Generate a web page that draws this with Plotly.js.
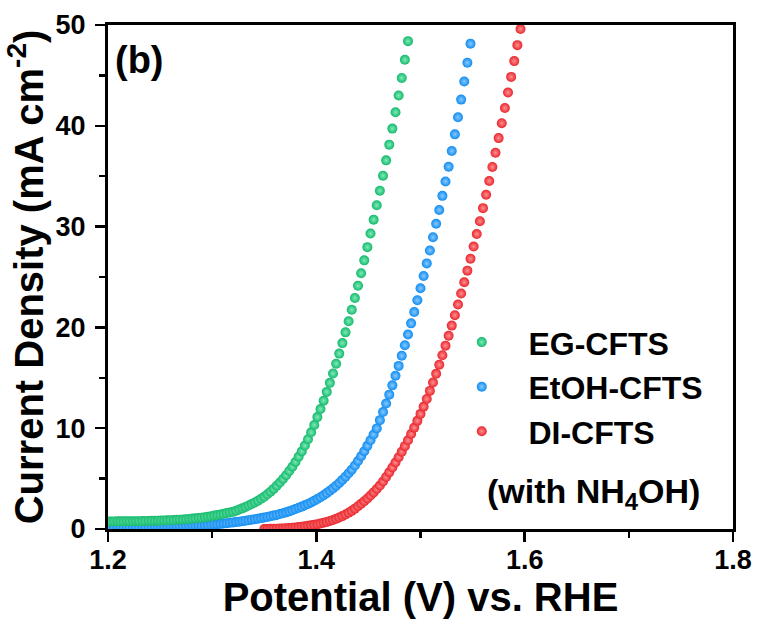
<!DOCTYPE html>
<html>
<head>
<meta charset="utf-8">
<script src="https://cdn.plot.ly/plotly-3.0.1.min.js"></script>
<style>html,body{margin:0;padding:0;background:#fff;}#chart{width:759px;height:621px;}</style>
</head>
<body>
<div id="chart"></div>
<script>
// Potential grid (V vs. RHE): first potential and scan step of each series
const seriesNames = ["EG-CFTS", "EtOH-CFTS", "DI-CFTS"];
const startPotential = [1.200, 1.200, 1.350];
const potentialStep = 0.003;

// Current density (mA cm^-2)
const egCFTS = [
  0.75,0.75,0.75,0.76,0.76,0.76,0.77,0.77,0.77,0.78,
  0.78,0.79,0.79,0.80,0.81,0.82,0.83,0.84,0.85,0.86,
  0.88,0.89,0.91,0.93,0.95,0.97,1.00,1.03,1.06,1.09,
  1.12,1.17,1.22,1.27,1.33,1.39,1.45,1.51,1.58,1.64,
  1.70,1.81,1.93,2.05,2.19,2.33,2.48,2.64,2.81,3.00,
  3.20,3.44,3.70,3.98,4.29,4.61,4.96,5.34,5.75,6.18,
  6.65,7.16,7.70,8.28,8.91,9.59,10.32,11.10,11.90,12.73,
  13.60,14.50,15.43,16.40,17.40,18.44,19.51,20.61,21.75,22.92,
  24.13,25.37,26.65,27.96,29.31,30.69,32.11,33.56,35.05,36.57,
  38.13,39.72,41.35,43.01,44.75,46.55,48.40
];
const etohCFTS = [
  0.15,0.15,0.15,0.16,0.16,0.16,0.17,0.17,0.18,0.18,
  0.18,0.19,0.19,0.20,0.20,0.21,0.22,0.22,0.23,0.24,
  0.25,0.26,0.27,0.28,0.29,0.30,0.31,0.32,0.33,0.34,
  0.35,0.37,0.39,0.42,0.45,0.48,0.51,0.55,0.58,0.62,
  0.65,0.69,0.73,0.78,0.83,0.87,0.92,0.97,1.02,1.08,
  1.14,1.20,1.26,1.33,1.40,1.48,1.56,1.65,1.75,1.86,
  1.98,2.10,2.22,2.35,2.49,2.64,2.80,2.97,3.15,3.35,
  3.56,3.79,4.03,4.29,4.57,4.87,5.19,5.53,5.89,6.30,
  6.75,7.22,7.72,8.25,8.80,9.38,9.98,10.80,11.60,12.45,
  13.33,14.25,15.20,16.18,17.19,18.23,19.30,20.40,21.53,22.69,
  23.88,25.10,26.35,27.63,28.94,30.28,31.65,33.05,34.48,35.94,
  37.50,39.15,40.85,42.60,44.40,46.25,48.15
];
const diCFTS = [
  0.00,0.01,0.02,0.02,0.03,0.05,0.06,0.08,0.10,0.13,
  0.16,0.19,0.23,0.27,0.32,0.37,0.42,0.47,0.54,0.62,
  0.70,0.80,0.90,1.01,1.14,1.28,1.44,1.61,1.80,2.02,
  2.25,2.50,2.76,3.03,3.32,3.63,3.96,4.31,4.72,5.16,
  5.62,6.10,6.60,7.12,7.66,8.22,8.80,9.42,10.06,10.73,
  11.42,12.14,12.90,13.70,14.53,15.40,16.30,17.23,18.19,19.17,
  20.18,21.21,22.27,23.36,24.48,25.63,26.81,28.02,29.26,30.53,
  31.83,33.16,34.52,35.91,37.33,38.78,40.26,41.77,43.30,44.85,
  46.42,48.00,49.60
];

const seriesValues = [egCFTS, etohCFTS, diCFTS];
const seriesColors = ["#14B96C", "#108CF0", "#E8262C"];
const seriesHighlights = ["#7FEBB8", "#86C9FF", "#FF8F92"];
const drawOrder = [2, 1, 0]; // DI drawn first, EG on top

const xTicks = [1.2, 1.4, 1.6, 1.8];
const yTicks = [0, 10, 20, 30, 40, 50];

const FONT = "Arial, 'Liberation Sans', sans-serif";

const traces = drawOrder.map(function (k) {
  return {
    type: "scatter",
    mode: "markers",
    name: "\u00a0\u00a0\u00a0" + seriesNames[k],
    x0: startPotential[k],
    dx: potentialStep,
    y: seriesValues[k],
    legendgroup: "g" + k,
    legendrank: k + 1,
    marker: {
      size: 10,
      color: seriesColors[k],
      gradient: { type: "radial", color: seriesHighlights[k] },
      line: { width: 0 }
    },
    hoverinfo: "x+y+name"
  };
});

const axisCommon = {
  showline: true,
  linecolor: "#000",
  linewidth: 3,
  mirror: true,
  ticks: "outside",
  ticklen: 10,
  tickwidth: 2.5,
  tickcolor: "#000",
  showgrid: false,
  zeroline: false,
  tickfont: { family: FONT, size: 27, color: "#000", weight: "bold" }
};

const layout = {
  width: 759,
  height: 621,
  margin: { l: 108, r: 26, t: 25, b: 92 },
  paper_bgcolor: "#fff",
  plot_bgcolor: "#fff",
  showlegend: true,
  legend: {
    x: 0.566, y: 0.425, xanchor: "left", yanchor: "top",
    bgcolor: "rgba(0,0,0,0)",
    font: { family: FONT, size: 32, color: "#000", weight: "bold" },
    traceorder: "grouped",
    tracegroupgap: 0,
    itemsizing: "trace"
  },
  xaxis: Object.assign({}, axisCommon, {
    range: [1.2, 1.8],
    tickmode: "array",
    tickvals: xTicks,
    ticktext: xTicks.map(function (v) { return v.toFixed(1); }),
    ticklabelstandoff: -5,
    minor: { ticks: "outside", ticklen: 6, tickwidth: 2.5, tickcolor: "#000", dtick: 0.1, tick0: 1.2 },
    title: { text: "Potential (V) vs. RHE", font: { family: FONT, size: 40, color: "#000", weight: "bold" }, standoff: 0 }
  }),
  yaxis: Object.assign({}, axisCommon, {
    range: [0, 50],
    tickmode: "array",
    tickvals: yTicks,
    ticktext: yTicks.map(String),
    ticklabelstandoff: 4,
    minor: { ticks: "outside", ticklen: 6, tickwidth: 2.5, tickcolor: "#000", dtick: 5, tick0: 0 },
    title: { text: "Current Density (mA cm<sup>-2</sup>)", font: { family: FONT, size: 40, color: "#000", weight: "bold" }, standoff: 0 }
  }),
  annotations: [
    {
      text: "(b)", xref: "paper", yref: "paper", x: 0.008, y: 0.93,
      xanchor: "left", yanchor: "middle", showarrow: false,
      font: { family: FONT, size: 38, color: "#000", weight: "bold" }
    },
    {
      text: "(with NH<sub>4</sub>OH)", xref: "paper", yref: "paper", x: 0.776, y: 0.07,
      xanchor: "center", yanchor: "middle", showarrow: false,
      font: { family: FONT, size: 34, color: "#000", weight: "bold" }
    }
  ]
};

Plotly.newPlot("chart", traces, layout, { displayModeBar: false, staticPlot: true });
</script>
</body>
</html>
